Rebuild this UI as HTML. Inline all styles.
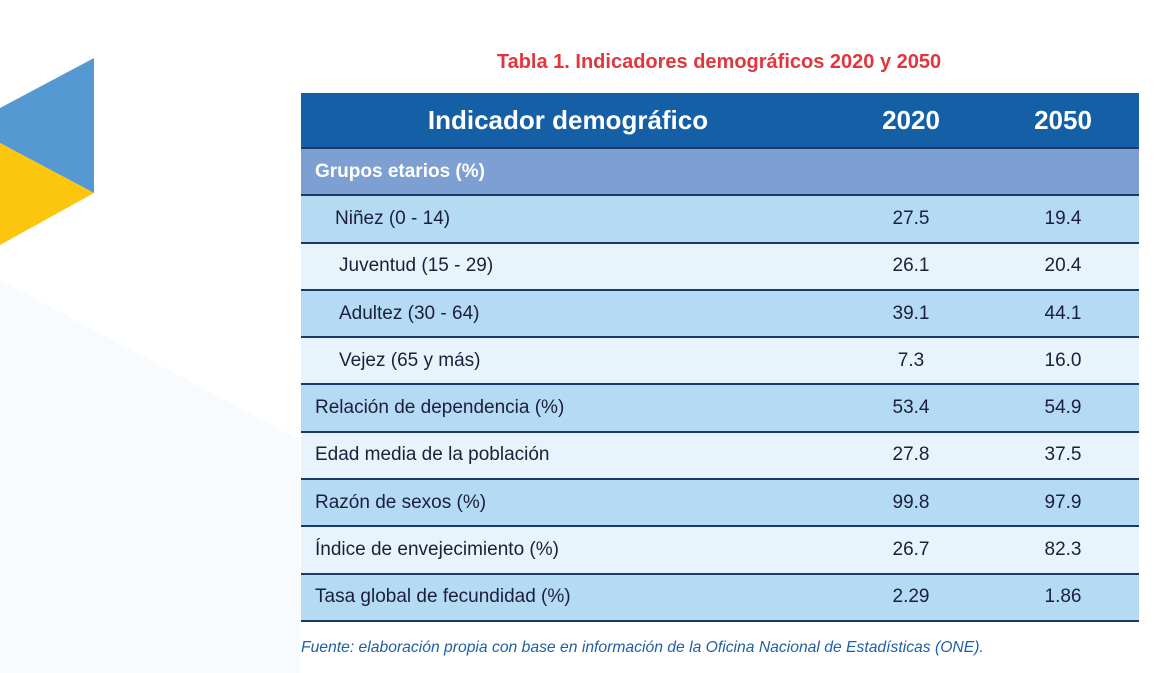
<!DOCTYPE html>
<html><head><meta charset="utf-8"><style>
body{margin:0;width:1163px;height:673px;background:#fff;font-family:"Liberation Sans",sans-serif;position:relative;overflow:hidden}
#title{position:absolute;left:0;width:1438px;top:51px;text-align:center;color:#e2363f;font-weight:bold;font-size:20px}
table{position:absolute;left:301px;top:93px;width:838px;border-collapse:collapse}
td{font-size:19px;color:#1b1f3a;height:45.3px;padding:0;border-bottom:2px solid #1d3a66}
td.n{text-align:center}
th{background:#145fa6;color:#fff;font-size:26px;height:54px;padding:0;border-bottom:2px solid #1d3a66}
tr.g td{background:#7d9fd2;color:#fff;font-weight:bold;padding-left:14px}
tr.a td{background:#b5daf3}
tr.b td{background:#e8f4fc}
#src{position:absolute;left:301px;top:639px;font-style:italic;color:#1f5fa6;font-size:15.7px}
</style></head><body>
<svg style="position:absolute;left:0;top:0" width="300" height="673">
<polygon points="0,108 94,58 94,193 0,143" fill="#5599d2"/>
<polygon points="0,143 94,193 0,245" fill="#fcc60f"/>
<polygon points="0,280 300,440 300,673 0,673" fill="#f8fbfe"/>
</svg>
<div id="title">Tabla 1. Indicadores demográficos 2020 y 2050</div>
<table>
<tr><th style="width:534px">Indicador demográfico</th><th style="width:152px">2020</th><th>2050</th></tr>
<tr class="g"><td colspan="3">Grupos etarios (%)</td></tr>
<tr class="a"><td style="padding-left:34px">Niñez (0 - 14)</td><td class="n">27.5</td><td class="n">19.4</td></tr>
<tr class="b"><td style="padding-left:38px">Juventud (15 - 29)</td><td class="n">26.1</td><td class="n">20.4</td></tr>
<tr class="a"><td style="padding-left:38px">Adultez (30 - 64)</td><td class="n">39.1</td><td class="n">44.1</td></tr>
<tr class="b"><td style="padding-left:38px">Vejez (65 y más)</td><td class="n">7.3</td><td class="n">16.0</td></tr>
<tr class="a"><td style="padding-left:14px">Relación de dependencia (%)</td><td class="n">53.4</td><td class="n">54.9</td></tr>
<tr class="b"><td style="padding-left:14px">Edad media de la población</td><td class="n">27.8</td><td class="n">37.5</td></tr>
<tr class="a"><td style="padding-left:14px">Razón de sexos (%)</td><td class="n">99.8</td><td class="n">97.9</td></tr>
<tr class="b"><td style="padding-left:14px">Índice de envejecimiento (%)</td><td class="n">26.7</td><td class="n">82.3</td></tr>
<tr class="a"><td style="padding-left:14px">Tasa global de fecundidad (%)</td><td class="n">2.29</td><td class="n">1.86</td></tr>
</table>
<div id="src">Fuente: elaboración propia con base en información de la Oficina Nacional de Estadísticas (ONE).</div>
</body></html>
